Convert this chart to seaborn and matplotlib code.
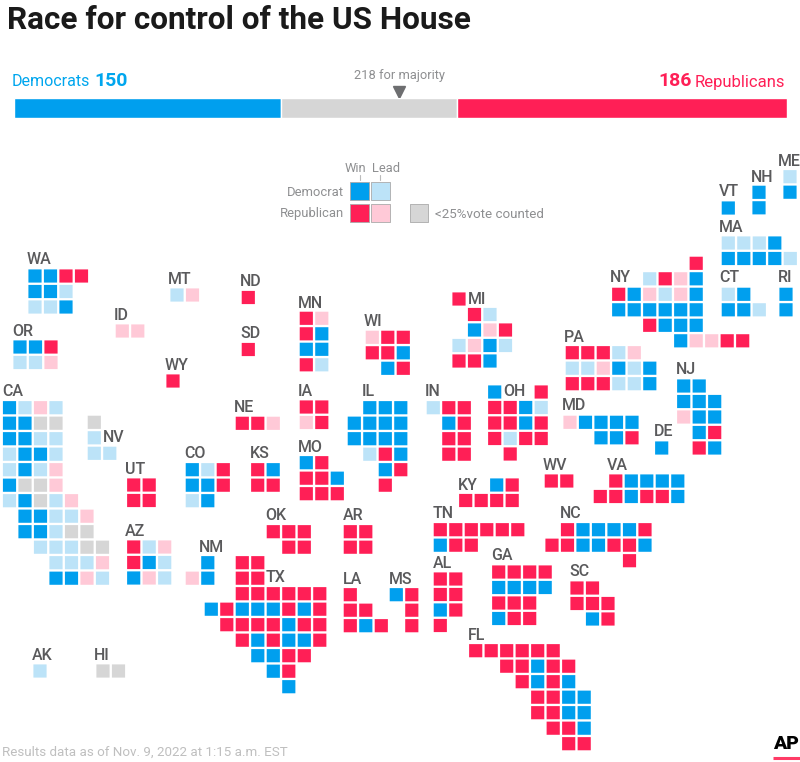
"""
Race for control of the US House - tile grid map of districts
"""

import pandas as pd
import matplotlib.pyplot as plt
import seaborn as sns

sns.set_style("white")
plt.rcParams['font.family'] = ['Roboto', 'DejaVu Sans']

# D/R = win, d/r = lead, G = under 25% counted, "." = no tile
states = ['WA', 'OR', 'CA', 'NV', 'ID', 'MT', 'ND', 'SD', 'WY', 'MN', 'WI', 'IA', 'NE', 'KS', 'MO',
          'IL', 'MI', 'IN', 'OH', 'WV', 'KY', 'NY', 'VT', 'NH', 'ME', 'MA', 'CT', 'RI', 'PA', 'MD',
          'DE', 'NJ', 'VA', 'NC', 'TN', 'AR', 'OK', 'LA', 'MS', 'AL', 'GA', 'SC', 'FL', 'UT', 'CO',
          'AZ', 'NM', 'TX', 'AK', 'HI']
districts = [
    ['DDRR', 'DDd', 'ddD'],
    ['DDR', 'ddr'],
    ['Ddrd', 'DDGG', 'DDdd', 'dDDd', 'dDdr', 'DGGr', 'dDGdr', '.DDddr',
     '.DDdGG', '..dddGG', '...dddr', '...DDrd'],
    ['G', 'd', 'dd'],
    ['rr'],
    ['dr'],
    ['R'],
    ['R'],
    ['R'],
    ['Rr', 'RD', 'DD', 'Rd'],
    ['rRR', 'RRD', '.DR'],
    ['RR', 'rR'],
    ['RRr'],
    ['RD', 'RR'],
    ['DR', 'RRD', 'RRR'],
    ['.DDD', 'DDDD', 'DDDD', '.dRD', '..DR', '..R'],
    ['R', '.Rd', '.DrR', 'drDd', 'RRD'],
    ['dRR', '.DR', '.RR', '.RR'],
    ['D..R', 'RRDd', 'RRDR', 'RdRR', '.R'],
    ['RR'],
    ['..DR', 'RRRR'],
    ['.....R', '..dRrD', 'RDrdrD', 'DDDDDD', '..RDDD', '....DrrRR'],
    ['D'],
    ['D', 'D'],
    ['d', 'D'],
    ['dddD', 'DDDDd'],
    ['dD', 'DDd'],
    ['D', 'D'],
    ['RRRdr', 'ddrDdD', 'RRRddD'],
    ['rDDDD', '..DDR'],
    ['D'],
    ['DD', 'DDD', 'rDD', '.DR', '.RD'],
    ['.RDDDD', 'RRDRRD'],
    ['.RDDDDR', 'RRDDRRD', '.....R'],
    ['RRRRRR', 'DRR'],
    ['RR', 'RR'],
    ['RRR', '.RR'],
    ['R', 'RR', 'RDR'],
    ['DR', '.R', '.R'],
    ['RR', 'RR', 'DR', 'R'],
    ['RRRR', 'DDDD', 'RRR', 'DRR'],
    ['RR', 'RRR', '.DR'],
    ['RRRRRR', '..RRDRR', '...RDRD', '....RRDD', '....RRDD', '.....RRD', '......RR'],
    ['RR', 'RR'],
    ['DdR', 'DDR', 'dD'],
    ['Rdr', 'RDd', 'Drd'],
    ['.D', 'rD'],
    ['..RR', '..RR', '..RRRRRR', 'DRDDDRDR', '.RRRRDRR', '..RDRDDR', '...DDRR', '....DR', '.....D'],
    ['d'],
    ['GG'],
]
dem_seats = 150
rep_seats = 186
total_seats = 435
majority = 218

# first tile centre of each state in pixels, then label left edge / middle
origin = {'WA': (35, 276), 'OR': (20, 347), 'CA': (9.5, 407.7), 'NV': (94.3, 422.3), 'ID': (122.3, 331),
          'MT': (177, 295), 'ND': (248.3, 297.5), 'SD': (248.3, 349.5), 'WY': (173, 381), 'MN': (306.3, 318.3),
          'WI': (372.3, 337.3), 'IA': (306.3, 407), 'NE': (242.3, 423.3), 'KS': (257.7, 469.7), 'MO': (306.3, 462.7),
          'IL': (354.3, 407.7), 'MI': (459, 299), 'IN': (433.3, 407.7), 'OH': (494.7, 392), 'WV': (551.3, 481),
          'KY': (465.7, 485), 'NY': (618.7, 263.3), 'VT': (728.3, 208), 'NH': (759, 192.3), 'ME': (790, 176.7),
          'MA': (728.3, 243), 'CT': (728.3, 294.3), 'RI': (786, 294.3), 'PA': (572.3, 352.7), 'MD': (570, 422.3),
          'DE': (661.7, 448), 'NJ': (683.7, 386), 'VA': (600.3, 481), 'NC': (552, 529.7), 'TN': (440.3, 529.7),
          'AR': (350.3, 531.7), 'OK': (273.3, 531.7), 'LA': (350.3, 594.7), 'MS': (396.3, 594.7), 'AL': (440.3, 579),
          'GA': (498.7, 572), 'SC': (577, 588), 'FL': (475.7, 650.7), 'UT': (133.7, 485), 'CO': (192.3, 469.7),
          'AZ': (133.7, 547), 'NM': (192.3, 562.7), 'TX': (211.3, 562.7), 'AK': (40, 671), 'HI': (103, 671)}
label_pos = {'WA': (27, 260), 'OR': (12, 332), 'CA': (2, 392), 'NV': (103, 438), 'ID': (114, 316), 'MT': (168, 279),
             'ND': (240, 282), 'SD': (240, 334), 'WY': (165, 366), 'MN': (298, 303), 'WI': (364, 321), 'IA': (298, 392),
             'NE': (234, 407), 'KS': (250, 454), 'MO': (298, 447), 'IL': (362, 392), 'IN': (425, 392), 'MI': (468, 299),
             'OH': (503, 392), 'PA': (564, 337), 'NY': (610, 278), 'VT': (719, 192), 'NH': (751, 177), 'ME': (778, 161),
             'MA': (719, 227), 'CT': (719, 278), 'RI': (778, 278), 'NJ': (676, 370), 'MD': (562, 406), 'DE': (654, 432),
             'VA': (607, 465), 'WV': (543, 465), 'KY': (458, 485), 'TN': (433, 514), 'NC': (560, 514), 'AR': (343, 515),
             'OK': (265, 516), 'CO': (184, 454), 'UT': (125, 469), 'AZ': (125, 531), 'NM': (199, 547), 'TX': (266, 578),
             'LA': (343, 579), 'MS': (389, 579), 'AL': (433, 564), 'GA': (491, 555), 'SC': (569, 572), 'FL': (468, 635),
             'AK': (32, 655), 'HI': (94, 655)}

PITCH = 15.5
COLORS = {'D': '#009FEE', 'd': '#BCE3F8', 'R': '#FF1F56', 'r': '#FFC9D7', 'G': '#D6D6D6'}
DARK = '#5A5A5C'
GREY = '#8E8F91'

tiles = []
for state, rows in zip(states, districts):
    x0, y0 = origin[state]
    for r, row in enumerate(rows):
        for c, status in enumerate(row):
            if status != '.':
                tiles.append({'state': state, 'x': x0 + c * PITCH, 'y': y0 + r * PITCH, 'status': status})
df = pd.DataFrame(tiles)

fig = plt.figure(figsize=(8, 7.62), dpi=100, facecolor='white')
ax = fig.add_axes([0, 0, 1, 1])
ax.set_xlim(0, 800)
ax.set_ylim(762, 0)
ax.axis('off')

sns.scatterplot(data=df, x='x', y='y', hue='status', palette=COLORS, marker='s', s=90,
                linewidth=0, legend=False, ax=ax)
# no pixel snapping, otherwise the gaps between tiles come out uneven
ax.collections[0].set_snap(False)

for state, (x, y) in label_pos.items():
    ax.text(x, y, state, fontsize=11.5, color=DARK, fontweight='medium', ha='left', va='center')

# Title and header
ax.text(7, 20, 'Race for control of the US House', fontsize=22.7, fontweight='bold', color='#1A1A1A',
        ha='left', va='center')
ax.text(12, 82, 'Democrats', fontsize=11.5, color='#00A6EE', ha='left', va='center')
ax.text(94, 81, str(dem_seats), fontsize=14, fontweight='bold', color='#00A6EE', ha='left', va='center')
ax.text(785, 82, 'Republicans', fontsize=12, color=COLORS['R'], ha='right', va='center')
ax.text(692, 81, str(rep_seats), fontsize=14, fontweight='bold', color=COLORS['R'], ha='right', va='center')
ax.text(399, 75, f'{majority} for majority', fontsize=9.3, color=GREY, ha='center', va='center')
ax.plot([399], [92], marker='v', markersize=8, color='#6D6E70', linestyle='none')

# Seat bar has its own scale in seats
bar_ax = fig.add_axes([14.5 / 800, 1 - 118 / 762, 772.5 / 800, 20 / 762])
bar_ax.barh([0], [dem_seats], left=0, height=1, color=COLORS['D'])
bar_ax.barh([0], [total_seats - dem_seats - rep_seats], left=dem_seats, height=1, color=COLORS['G'])
bar_ax.barh([0], [rep_seats], left=total_seats - rep_seats, height=1, color=COLORS['R'])
bar_ax.set_xlim(0, total_seats)
bar_ax.set_ylim(-0.5, 0.5)
bar_ax.axis('off')

# Key
key_tiles = pd.DataFrame({'x': [359.5, 380.5, 359.5, 380.5, 419],
                          'y': [191, 191, 213, 213, 213],
                          'status': ['D', 'd', 'R', 'r', 'G']})
sns.scatterplot(data=key_tiles, x='x', y='y', hue='status', palette=COLORS, marker='s', s=170,
                linewidth=0.6, edgecolor='#AAAAAA', legend=False, ax=ax)
ax.text(355, 168, 'Win', fontsize=9.3, color=GREY, ha='center', va='center')
ax.text(386, 168, 'Lead', fontsize=9.3, color=GREY, ha='center', va='center')
ax.plot([359.5, 359.5], [175, 180], color='#BBBBBB', lw=0.8)
ax.plot([380, 380], [175, 180], color='#BBBBBB', lw=0.8)
ax.text(344, 192, 'Democrat', fontsize=9.4, color=GREY, ha='right', va='center')
ax.text(344, 214, 'Republican', fontsize=9.4, color=GREY, ha='right', va='center')
ax.text(435, 214, '<25%vote counted', fontsize=9.6, color=GREY, ha='left', va='center')

# Footer
ax.text(2, 752, 'Results data as of Nov. 9, 2022 at 1:15 a.m. EST', fontsize=9.6, color='#BFBFBF',
        ha='left', va='center')
ax.text(786, 744, 'AP', fontsize=14, fontweight='black', color='black', ha='center', va='center')
ax.plot([773, 800], [758, 758], color='#FF3B66', lw=2.2, solid_capstyle='butt')

plt.savefig('out.png', dpi=100, facecolor='white')
plt.close()
